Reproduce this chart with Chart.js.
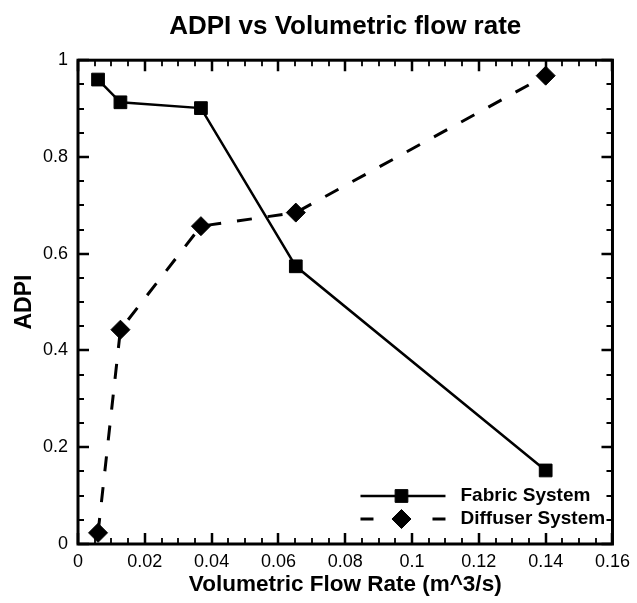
<!DOCTYPE html>
<html>
<head>
<meta charset="utf-8">
<script src="https://cdn.jsdelivr.net/npm/chart.js@4"></script>
<style>
  body { margin: 0; background: #fff; }
  #wrap { width: 637px; height: 603px; }
</style>
</head>
<body>
<div id="wrap"><canvas id="adpiChart"></canvas></div>
<script>
const flowRate = [0.006, 0.0127, 0.0368, 0.0652, 0.14];
const fabricAdpi = [0.96, 0.913, 0.901, 0.574, 0.152];
const diffuserAdpi = [0.023, 0.443, 0.657, 0.685, 0.968];

const xTickValues = [0, 0.02, 0.04, 0.06, 0.08, 0.1, 0.12, 0.14, 0.16];
const xTickLabels = ["0", "0.02", "0.04", "0.06", "0.08", "0.1", "0.12", "0.14", "0.16"];
const yTickValues = [0, 0.2, 0.4, 0.6, 0.8, 1];
const yTickLabels = ["0", "0.2", "0.4", "0.6", "0.8", "1"];

const seriesNames = ["Fabric System", "Diffuser System"];

const FONT = "'Liberation Sans', Arial, sans-serif";

function toPoints(xs, ys) {
  return xs.map((x, i) => ({ x: x, y: ys[i] }));
}

// frame, inward ticks on all four sides, and the legend box
const framePlugin = {
  id: "frame",
  afterDraw(chart) {
    const ctx = chart.ctx;
    const area = chart.chartArea;
    const xs = chart.scales.x;
    const ys = chart.scales.y;
    ctx.save();
    ctx.strokeStyle = "#000";
    ctx.lineCap = "butt";

    // x ticks (minor every 0.005, major every 0.02)
    for (let i = 0; i <= 32; i++) {
      const major = i % 4 === 0;
      const px = Math.round(xs.getPixelForValue(i * 0.005));
      const len = major ? 11 : 6;
      ctx.lineWidth = major ? 2.5 : 1.8;
      ctx.beginPath();
      ctx.moveTo(px, area.bottom);
      ctx.lineTo(px, area.bottom - len);
      ctx.moveTo(px, area.top);
      ctx.lineTo(px, area.top + len);
      ctx.stroke();
    }
    // y ticks (minor every 0.05, major every 0.2)
    for (let i = 0; i <= 20; i++) {
      const major = i % 4 === 0;
      const py = Math.round(ys.getPixelForValue(i * 0.05));
      const len = major ? 11 : 6;
      ctx.lineWidth = major ? 2.5 : 1.8;
      ctx.beginPath();
      ctx.moveTo(area.left, py);
      ctx.lineTo(area.left + len, py);
      ctx.moveTo(area.right, py);
      ctx.lineTo(area.right - len, py);
      ctx.stroke();
    }

    ctx.lineWidth = 3;
    ctx.strokeRect(area.left, area.top, area.right - area.left, area.bottom - area.top);

    // legend
    const lx0 = area.right - 252;
    const lx1 = area.right - 167;
    const mx = area.right - 211;
    const tx = area.right - 152;
    const rows = [area.bottom - 48, area.bottom - 25];
    ctx.fillStyle = "#000";
    ctx.lineWidth = 2.5;
    ctx.beginPath();
    ctx.moveTo(lx0, rows[0]);
    ctx.lineTo(lx1, rows[0]);
    ctx.stroke();
    ctx.lineWidth = 1;
    Chart.helpers.drawPoint(ctx, { pointStyle: "rect", radius: 9, borderWidth: 1 }, mx, rows[0]);

    ctx.lineWidth = 3;
    ctx.beginPath();
    ctx.moveTo(lx0, rows[1]);
    ctx.lineTo(lx0 + 13, rows[1]);
    ctx.moveTo(lx1 - 13, rows[1]);
    ctx.lineTo(lx1, rows[1]);
    ctx.stroke();
    ctx.lineWidth = 1;
    Chart.helpers.drawPoint(ctx, { pointStyle: "rectRot", radius: 9.5, borderWidth: 1 }, mx, rows[1]);

    ctx.font = "bold 19px " + FONT;
    ctx.textAlign = "left";
    ctx.textBaseline = "middle";
    ctx.fillText(seriesNames[0], tx, rows[0]);
    ctx.fillText(seriesNames[1], tx, rows[1]);
    ctx.restore();
  }
};

const ctx = document.getElementById("adpiChart");
const adpiChart = new Chart(ctx, {
  type: "scatter",
  data: {
    datasets: [
      {
        label: seriesNames[0],
        data: toPoints(flowRate, fabricAdpi),
        showLine: true,
        tension: 0,
        borderColor: "#000",
        backgroundColor: "#000",
        borderWidth: 2.5,
        pointStyle: "rect",
        pointRadius: 9,
        pointBorderWidth: 1,
        pointBackgroundColor: "#000",
        pointBorderColor: "#000"
      },
      {
        label: seriesNames[1],
        data: toPoints(flowRate, diffuserAdpi),
        showLine: true,
        tension: 0,
        borderColor: "#000",
        backgroundColor: "#000",
        borderWidth: 3,
        borderDash: [15, 16],
        pointStyle: "rectRot",
        pointRadius: 9.5,
        pointBorderWidth: 1,
        pointBackgroundColor: "#000",
        pointBorderColor: "#000"
      }
    ]
  },
  options: {
    responsive: true,
    maintainAspectRatio: false,
    animation: false,
    layout: { padding: { left: 0, right: 24, top: 0, bottom: 0 } },
    plugins: {
      legend: { display: false },
      tooltip: { enabled: false },
      title: {
        display: true,
        fullSize: false,
        text: "ADPI vs Volumetric flow rate",
        color: "#000",
        font: { family: FONT, size: 26, weight: "bold" },
        padding: { top: 11, bottom: 18 }
      }
    },
    scales: {
      x: {
        type: "linear",
        min: 0,
        max: 0.16,
        grid: { display: false, drawTicks: false },
        border: { display: false },
        afterBuildTicks: (scale) => {
          scale.ticks = xTickValues.map((v) => ({ value: v }));
        },
        afterFit: (scale) => { scale.height = 59; },
        ticks: {
          color: "#000",
          padding: 7,
          maxRotation: 0,
          font: { family: FONT, size: 18 },
          callback: (value, index) => xTickLabels[index]
        },
        title: {
          display: true,
          text: "Volumetric Flow Rate (m^3/s)",
          color: "#000",
          font: { family: FONT, size: 22.5, weight: "bold" },
          padding: { top: 0, bottom: 5 }
        }
      },
      y: {
        type: "linear",
        min: 0,
        max: 1,
        grid: { display: false, drawTicks: false },
        border: { display: false },
        afterBuildTicks: (scale) => {
          scale.ticks = yTickValues.map((v) => ({ value: v }));
        },
        afterFit: (scale) => { scale.width = 78; },
        ticks: {
          color: "#000",
          padding: 10,
          font: { family: FONT, size: 18 },
          callback: (value, index) => yTickLabels[index]
        },
        title: {
          display: true,
          text: "ADPI",
          color: "#000",
          font: { family: FONT, size: 23, weight: "bold" },
          padding: { top: 11, bottom: 0 }
        }
      }
    }
  },
  plugins: [framePlugin]
});
</script>
</body>
</html>
